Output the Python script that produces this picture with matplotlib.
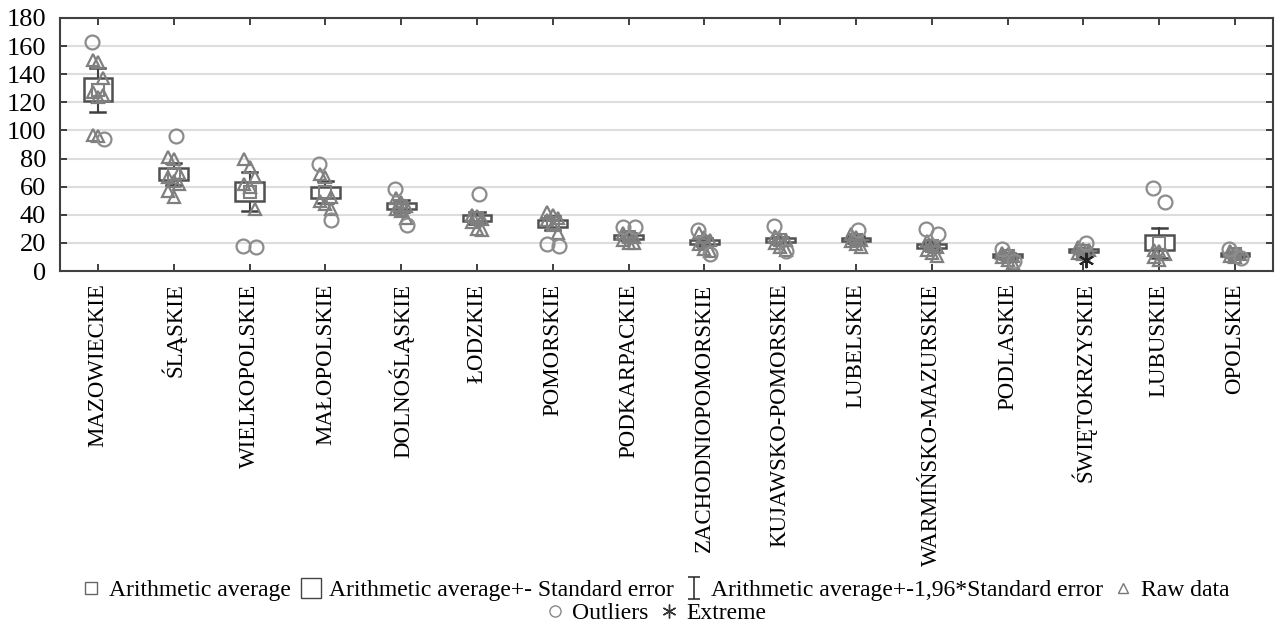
import matplotlib
matplotlib.use("Agg")
import matplotlib.pyplot as plt
from matplotlib.lines import Line2D
from matplotlib.path import Path
import numpy as np

plt.rcParams['font.family'] = ['Liberation Serif', 'DejaVu Serif']

regions = ["MAZOWIECKIE", "ŚLĄSKIE", "WIELKOPOLSKIE", "MAŁOPOLSKIE", "DOLNOŚLĄSKIE",
           "ŁODZKIE", "POMORSKIE", "PODKARPACKIE", "ZACHODNIOPOMORSKIE",
           "KUJAWSKO-POMORSKIE", "LUBELSKIE", "WARMIŃSKO-MAZURSKIE", "PODLASKIE",
           "ŚWIĘTOKRZYSKIE", "LUBUSKIE", "OPOLSKIE"]
means = [129, 69, 56.5, 56, 46, 37.5, 34, 24.4, 20.6, 21.8, 22.3, 17.6, 10.8, 14.5, 20, 11.8]
std_err = [8, 4, 7, 4, 2.2, 2.2, 2.6, 1.3, 1.4, 1.4, 1.3, 1.4, 1.1, 0.9, 5.4, 1.0]
raw_data = [
    [150, 149, 137, 127, 124, 125, 97, 96],
    [81, 80, 70, 67, 64, 62, 57, 53],
    [80, 74, 67, 62, 60, 44],
    [69, 67, 53, 50, 48, 44],
    [52, 49, 46, 44, 43, 38],
    [40, 39, 37, 35, 30, 29],
    [42, 40, 38, 36, 33, 27],
    [27, 25, 24, 22, 20, 20],
    [27, 24, 22, 19, 16, 14],
    [25, 23, 22, 20, 17, 15],
    [26, 24, 22, 21, 19, 17],
    [21, 19, 17, 15, 13, 11],
    [13, 12, 11, 10, 8, 6],
    [17, 16, 15, 13, 12],
    [15, 14, 12, 10, 8],
    [14, 13, 12, 11, 10],
]
outliers = [[163, 94], [96], [18, 17], [76, 36], [58, 33], [55], [19, 18], [31, 31],
            [29, 12], [32, 14], [29], [30, 26], [16, 7], [20], [59, 49], [16, 9]]
extremes = [[], [], [], [], [], [], [], [], [], [], [], [], [], [8], [], []]
y_ticks = [0, 20, 40, 60, 80, 100, 120, 140, 160, 180]

box_col = '#505050'
pt_col = '#7f7f7f'
circ_col = '#8c8c8c'

fig = plt.figure(figsize=(12.75, 6.3), dpi=100)
ax = fig.add_axes([60/1275, 1-271/630, (1273-60)/1275, (271-18)/630])

x = np.arange(len(regions))
box_w = 0.38
cap_w = 0.2
for i in x:
    m, se = means[i], std_err[i]
    # whisker (1.96 SE)
    ax.plot([i, i], [m - 1.96*se, m + 1.96*se], color='#404040', lw=1.5, zorder=2)
    ax.plot([i - cap_w/2, i + cap_w/2], [m + 1.96*se]*2, color='#404040', lw=1.8, zorder=2)
    ax.plot([i - cap_w/2, i + cap_w/2], [m - 1.96*se]*2, color='#404040', lw=1.8, zorder=2)
    # SE box
    ax.add_patch(plt.Rectangle((i - box_w/2, m - se), box_w, 2*se, facecolor='white',
                               edgecolor=box_col, lw=1.8, zorder=3))
    # mean
    ax.plot([i], [m], marker='s', ms=9, mfc='none', mec=pt_col, mew=1.5, zorder=4)
    # raw data
    vals = raw_data[i]
    offs = [((k % 3) - 1) * 0.07 for k in range(len(vals))]
    ax.plot(i + np.array(offs), vals, linestyle='none', marker='^', ms=9, mfc='none',
            mec=pt_col, mew=1.6, zorder=5)
    ov = outliers[i]
    ooffs = [(-0.08 if k % 2 == 0 else 0.08) if len(ov) > 1 else 0.03 for k in range(len(ov))]
    ax.plot(i + np.array(ooffs), ov, linestyle='none', marker='o', ms=10, mfc='none',
            mec=circ_col, mew=1.6, zorder=5)
    if extremes[i]:
        ax.plot([i + 0.03]*len(extremes[i]), extremes[i], linestyle='none',
                marker=(6, 2, 0), ms=11, color='#222222', mew=1.4, zorder=6)

ax.set_xlim(-0.5, len(regions) - 0.5)
ax.set_ylim(0, 180)
ax.set_yticks(y_ticks)
ax.set_xticks(x)
ax.set_xticklabels(regions, rotation=90, va='top', ha='center', fontsize=16.5)
ax.tick_params(axis='both', direction='in', color='#303030', width=1.3,
               length=5, top=True, right=True)
ax.tick_params(axis='y', labelsize=19, pad=10)
ax.tick_params(axis='x', pad=9)
ax.yaxis.grid(True, color='#dddddd', lw=1.5)
ax.set_axisbelow(True)
for s in ax.spines.values():
    s.set_color('#404040')
    s.set_linewidth(1.5)

# legend
whisk_path = Path([(-0.5, 1), (0.5, 1), (0, 1), (0, -1), (-0.5, -1), (0.5, -1)],
                  [Path.MOVETO, Path.LINETO, Path.MOVETO, Path.LINETO, Path.MOVETO, Path.LINETO])
h1 = [
    Line2D([], [], linestyle='none', marker='s', ms=8, mfc='none', mec='#666666', mew=1.0),
    Line2D([], [], linestyle='none', marker='s', ms=15, mfc='none', mec='#444444', mew=1.0),
    Line2D([], [], linestyle='none', marker=whisk_path, ms=16, color='#333333', mew=1.2),
    Line2D([], [], linestyle='none', marker='^', ms=7, mfc='none', mec='#777777', mew=1.0),
]
l1 = ["Arithmetic average", "Arithmetic average+- Standard error",
      "Arithmetic average+-1,96*Standard error", "Raw data"]
h2 = [
    Line2D([], [], linestyle='none', marker='o', ms=8, mfc='none', mec='#888888', mew=1.0),
    Line2D([], [], linestyle='none', marker=(6, 2, 0), ms=10, color='#333333', mew=1.0),
]
l2 = ["Outliers", "Extreme"]
leg1 = fig.legend(h1, l1, loc='center', bbox_to_anchor=(654/1275, 1-590/630), ncol=4,
                  frameon=False, fontsize=17, handletextpad=0.2, columnspacing=0.3,
                  handlelength=1.1)
leg2 = fig.legend(h2, l2, loc='center', bbox_to_anchor=(654/1275, 1-613/630), ncol=2,
                  frameon=False, fontsize=17, handletextpad=0.2, columnspacing=0.3,
                  handlelength=1.1)

fig.savefig("out.png", dpi=100)
